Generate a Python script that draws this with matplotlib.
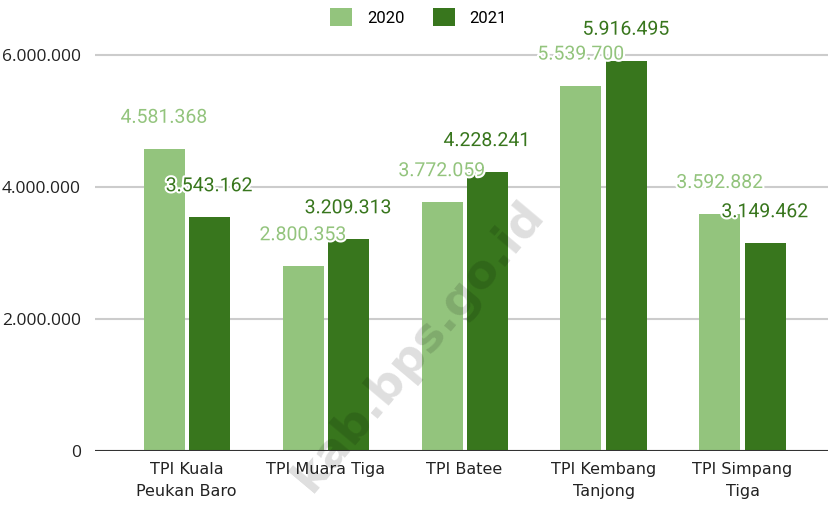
import numpy as np
import matplotlib.pyplot as plt
import matplotlib.patheffects as pe
from matplotlib.ticker import FuncFormatter

categories = ["TPI Kuala\nPeukan Baro", "TPI Muara Tiga", "TPI Batee",
              "TPI Kembang\nTanjong", "TPI Simpang\nTiga"]
years = ["2020", "2021"]
val_2020 = [4581368, 2800353, 3772059, 5539700, 3592882]
val_2021 = [3543162, 3209313, 4228241, 5916495, 3149462]

light = "#93c47d"
dark = "#38761d"

def dots(v):
    return f"{int(v):,}".replace(",", ".")

fig = plt.figure(figsize=(8.29, 5.05), dpi=100)
ax = fig.add_axes([0.1146, 0.107, 0.885, 0.849])

x = np.arange(len(categories))
w = 0.295
gap = 0.015
b1 = ax.bar(x - w / 2 - gap, val_2020, w, color=light, label=years[0], zorder=3)
b2 = ax.bar(x + w / 2 + gap, val_2021, w, color=dark, label=years[1], zorder=3)

stroke = [pe.withStroke(linewidth=3, foreground="white")]
for bars, vals, col in [(b1, val_2020, light), (b2, val_2021, dark)]:
    for rect, v in zip(bars, vals):
        ax.annotate(dots(v), (rect.get_x() + rect.get_width() / 2, v),
                    xytext=(0, 31), textcoords="offset pixels",
                    ha="center", va="center", fontsize=14, color=col,
                    family="Roboto", path_effects=stroke, zorder=5)

ax.set_xlim(-0.66, 4.62)
ax.set_ylim(0, 6500000)
ax.set_yticks([0, 2000000, 4000000, 6000000])
ax.yaxis.set_major_formatter(FuncFormatter(lambda v, p: dots(v)))
ax.set_xticks(x)
ax.set_xticklabels(categories, family="DejaVu Sans", fontsize=11.5, linespacing=1.6,
                   color="#222222")
for lbl in ax.get_yticklabels():
    lbl.set_family("Open Sans")
    lbl.set_fontsize(12.5)
    lbl.set_color("#222222")

ax.grid(axis="y", color="#cccccc", linewidth=1.5, zorder=0)
ax.axhline(0, color="#333333", linewidth=1.5, zorder=4)
for s in ax.spines.values():
    s.set_visible(False)
ax.tick_params(axis="y", length=0, pad=10)
ax.tick_params(axis="x", length=0, pad=8)

fig.legend(loc="center", bbox_to_anchor=(0.505, 0.966), ncol=2, frameon=False,
           prop={"family": "Roboto", "size": 12}, handlelength=1.3,
           handleheight=1.3, handletextpad=0.9, columnspacing=1.7)

fig.text(0.505, 0.315, "kab.bps.go.id", rotation=50, fontsize=34, fontweight="bold",
         color="#000000", alpha=0.13, ha="center", va="center", zorder=10)

fig.savefig("out.png", dpi=100)
